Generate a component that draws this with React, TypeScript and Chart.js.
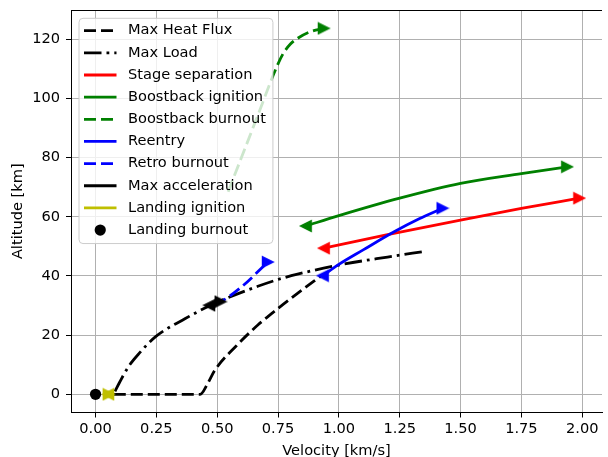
import React, { useEffect, useRef } from 'react';
import { Chart, registerables } from 'chart.js';

Chart.register(...registerables);

// ---- Axis ticks / ranges ----
const X_TICKS = [0, 0.25, 0.5, 0.75, 1.0, 1.25, 1.5, 1.75, 2.0];
const Y_TICKS = [0, 20, 40, 60, 80, 100, 120];
const X_MIN = -0.1008;
const X_MAX = 2.0813;
const Y_MIN = -6.16;
const Y_MAX = 129.9;

// ---- Series (velocity km/s, altitude km) ----
const heatFluxV = [0.075, 0.43, 0.46, 0.491, 0.58, 0.667, 0.75, 0.83, 0.931];
const heatFluxH = [0, 0, 3.5, 8.2, 16.5, 23.4, 29.0, 34.1, 40.3];

const maxLoadV = [0.08, 0.098, 0.135, 0.18, 0.247, 0.369, 0.484, 0.667, 0.75, 0.83, 1.0, 1.2, 1.354];
const maxLoadH = [1.0, 3.9, 9.3, 13.9, 19.5, 25.6, 30.5, 36.5, 38.8, 40.6, 43.7, 46.4, 48.3];

const stageSepV = [0.938, 1.2, 1.5, 1.75, 1.988];
const stageSepH = [49.4, 54.0, 58.9, 62.8, 66.3];

const boostIgnV = [0.864, 1.0, 1.25, 1.5, 1.75, 1.938];
const boostIgnH = [56.9, 60.4, 66.3, 71.3, 74.6, 76.9];

const boostBurnV = [0.545, 0.6, 0.667, 0.742, 0.77, 0.8, 0.83, 0.884, 0.938];
const boostBurnH = [68.5, 80.1, 94.3, 110.2, 115.0, 118.3, 120.3, 122.6, 123.7];

const reentryV = [0.934, 1.0, 1.1, 1.229, 1.33, 1.426];
const reentryH = [40.1, 43.9, 48.8, 55.0, 59.3, 62.9];

const retroBurnV = [0.49, 0.514, 0.6, 0.708];
const retroBurnH = [30.7, 31.3, 36.3, 44.7];

const maxAccV = [0.467, 0.514];
const maxAccH = [30.1, 31.3];

const landIgnV = [0.052, 0.054];
const landIgnH = [0, 0];

const landBurnV = [0];
const landBurnH = [0];

const LABELS = [
  'Max Heat Flux',
  'Max Load',
  'Stage separation',
  'Boostback ignition',
  'Boostback burnout',
  'Reentry',
  'Retro burnout',
  'Max acceleration',
  'Landing ignition',
  'Landing burnout',
];

const BLACK = '#000000';
const RED = '#ff0000';
const GREEN = '#008000';
const BLUE = '#0000ff';
const YELLOW = '#bfbf00';

const LW = 2.8;
const DASHED = [12, 5];
const DASHDOT = [17.5, 5, 2.8, 5];
const FONT_FAMILY = "'DejaVu Sans'";
const FONT_SIZE = 14.6;

function makeTri(color: string, dir: 'left' | 'right') {
  const c = document.createElement('canvas');
  c.width = 14;
  c.height = 14;
  const g = c.getContext('2d')!;
  g.beginPath();
  if (dir === 'right') {
    g.moveTo(1.5, 1.5);
    g.lineTo(12.5, 7);
    g.lineTo(1.5, 12.5);
  } else {
    g.moveTo(12.5, 1.5);
    g.lineTo(1.5, 7);
    g.lineTo(12.5, 12.5);
  }
  g.closePath();
  g.fillStyle = color;
  g.fill();
  g.lineWidth = 1.2;
  g.strokeStyle = color;
  g.stroke();
  return c;
}

function seg(
  idx: number,
  xs: number[],
  ys: number[],
  color: string,
  dash: number[],
  startMarker: any,
  endMarker: any
) {
  const n = xs.length;
  return {
    label: LABELS[idx],
    data: xs.map((x, i) => ({ x, y: ys[i] })),
    showLine: true,
    borderColor: color,
    backgroundColor: color,
    borderWidth: LW,
    borderDash: dash,
    borderCapStyle: 'butt',
    cubicInterpolationMode: 'monotone',
    pointRadius: xs.map((_, i) =>
      (i === 0 && startMarker) || (i === n - 1 && endMarker) ? 6 : 0
    ),
    pointStyle: xs.map((_, i) =>
      i === 0 && startMarker ? startMarker : i === n - 1 && endMarker ? endMarker : 'circle'
    ),
    pointBorderWidth: 0,
    order: 20 - idx,
  };
}

const LEGEND_STYLES = [
  { color: BLACK, dash: DASHED },
  { color: BLACK, dash: DASHDOT },
  { color: RED, dash: [] },
  { color: GREEN, dash: [] },
  { color: GREEN, dash: DASHED },
  { color: BLUE, dash: [] },
  { color: BLUE, dash: DASHED },
  { color: BLACK, dash: [] },
  { color: YELLOW, dash: [] },
  { color: BLACK, dash: [], marker: true },
];

const spinePlugin = {
  id: 'topSpine',
  afterDatasetsDraw(chart: any) {
    const { ctx, chartArea } = chart;
    ctx.save();
    ctx.strokeStyle = '#000';
    ctx.lineWidth = 1;
    ctx.beginPath();
    ctx.moveTo(chartArea.left, chartArea.top + 0.5);
    ctx.lineTo(chartArea.right, chartArea.top + 0.5);
    ctx.stroke();
    ctx.restore();
  },
};

const legendPlugin = {
  id: 'mplLegend',
  afterDraw(chart: any) {
    const { ctx, chartArea } = chart;
    ctx.save();
    ctx.font = `${FONT_SIZE}px ${FONT_FAMILY}`;
    const x0 = chartArea.left + 8;
    const y0 = chartArea.top + 8.3;
    const rowPitch = 22.15;
    const firstRow = chartArea.top + 20.7;
    const handleX0 = x0 + 5;
    const handleX1 = x0 + 37.5;
    const textX = x0 + 49;
    let maxW = 0;
    LABELS.forEach((l) => {
      maxW = Math.max(maxW, ctx.measureText(l).width);
    });
    const x1 = textX + maxW + 7;
    const y1 = firstRow + rowPitch * (LABELS.length - 1) + 13.5;
    ctx.beginPath();
    (ctx as any).roundRect(x0, y0, x1 - x0, y1 - y0, 4);
    ctx.fillStyle = 'rgba(255,255,255,0.8)';
    ctx.fill();
    ctx.lineWidth = 1;
    ctx.strokeStyle = '#cccccc';
    ctx.stroke();

    LABELS.forEach((label, i) => {
      const y = firstRow + rowPitch * i;
      const st = LEGEND_STYLES[i];
      if ((st as any).marker) {
        ctx.beginPath();
        ctx.arc((handleX0 + handleX1) / 2, y, 5.6, 0, Math.PI * 2);
        ctx.fillStyle = st.color;
        ctx.fill();
      } else {
        ctx.beginPath();
        ctx.setLineDash(st.dash);
        ctx.lineCap = 'butt';
        ctx.lineWidth = LW;
        ctx.strokeStyle = st.color;
        ctx.moveTo(handleX0, y);
        ctx.lineTo(handleX1, y);
        ctx.stroke();
        ctx.setLineDash([]);
      }
      ctx.fillStyle = '#000';
      ctx.textAlign = 'left';
      ctx.textBaseline = 'middle';
      ctx.fillText(label, textX, y);
    });
    ctx.restore();
  },
};

export default function App() {
  const ref = useRef<HTMLCanvasElement>(null);

  useEffect(() => {
    const canvas = ref.current!;
    const triL = (c: string) => makeTri(c, 'left');
    const triR = (c: string) => makeTri(c, 'right');

    const datasets: any[] = [
      seg(0, heatFluxV, heatFluxH, BLACK, DASHED, null, null),
      seg(1, maxLoadV, maxLoadH, BLACK, DASHDOT, null, null),
      seg(2, stageSepV, stageSepH, RED, [], triL(RED), triR(RED)),
      seg(3, boostIgnV, boostIgnH, GREEN, [], triL(GREEN), triR(GREEN)),
      seg(4, boostBurnV, boostBurnH, GREEN, DASHED, null, triR(GREEN)),
      seg(5, reentryV, reentryH, BLUE, [], triL(BLUE), triR(BLUE)),
      seg(6, retroBurnV, retroBurnH, BLUE, DASHED, null, triR(BLUE)),
      seg(7, maxAccV, maxAccH, BLACK, [], triL(BLACK), triR(BLACK)),
      seg(8, landIgnV, landIgnH, YELLOW, [], triL(YELLOW), triR(YELLOW)),
      {
        label: LABELS[9],
        data: landBurnV.map((x, i) => ({ x, y: landBurnH[i] })),
        showLine: false,
        pointStyle: 'circle',
        pointRadius: 5.6,
        pointBorderWidth: 0,
        backgroundColor: BLACK,
        borderColor: BLACK,
        order: 10,
      },
    ];

    const font = { family: FONT_FAMILY, size: FONT_SIZE };

    const chart = new Chart(canvas, {
      type: 'scatter',
      data: { datasets },
      options: {
        animation: false,
        responsive: false,
        events: [],
        layout: { padding: { top: 10, left: 0, right: 0, bottom: 0 } },
        plugins: {
          legend: { display: false },
          tooltip: { enabled: false },
        },
        scales: {
          x: {
            type: 'linear',
            position: 'bottom',
            min: X_MIN,
            max: X_MAX,
            afterBuildTicks: (s: any) => {
              s.ticks = X_TICKS.map((v) => ({ value: v }));
            },
            afterFit: (s: any) => {
              s.height = 44.5;
              s.paddingLeft = 0;
              s.paddingRight = 0;
            },
            ticks: {
              color: '#000',
              font,
              padding: 3,
              maxRotation: 0,
              autoSkip: false,
              callback: (v: any) => Number(v).toFixed(2),
            },
            grid: {
              color: '#b0b0b0',
              lineWidth: 1,
              tickLength: 5,
              tickColor: '#000',
              tickWidth: 1,
            },
            border: { display: true, color: '#000', width: 1 },
            title: {
              display: true,
              text: 'Velocity [km/s]',
              color: '#000',
              font,
              padding: { top: 0, bottom: -3 },
            },
          },
          y: {
            type: 'linear',
            position: 'left',
            min: Y_MIN,
            max: Y_MAX,
            afterBuildTicks: (s: any) => {
              s.ticks = Y_TICKS.map((v) => ({ value: v }));
            },
            afterFit: (s: any) => {
              s.width = 71;
              s.paddingTop = 0;
              s.paddingBottom = 0;
            },
            ticks: {
              color: '#000',
              font,
              padding: 6,
              autoSkip: false,
              callback: (v: any) => String(v),
            },
            grid: {
              color: '#b0b0b0',
              lineWidth: 1,
              tickLength: 5,
              tickColor: '#000',
              tickWidth: 1,
            },
            border: { display: true, color: '#000', width: 1 },
            title: {
              display: true,
              text: 'Altitude [km]',
              color: '#000',
              font,
              padding: { top: 9.5, bottom: 0 },
            },
          },
        },
      } as any,
      plugins: [spinePlugin, legendPlugin],
    });

    return () => chart.destroy();
  }, []);

  return (
    <canvas
      ref={ref}
      width={608}
      height={457}
      style={{ position: 'fixed', left: 0, top: 0, display: 'block', width: '608px', height: '457px' }}
    />
  );
}
